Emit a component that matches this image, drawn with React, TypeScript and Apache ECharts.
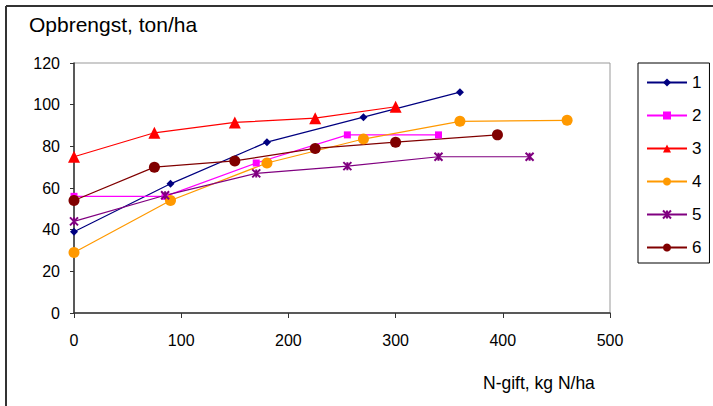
import React, { useEffect, useRef } from "react";
import * as echarts from "echarts";

const seriesNames = ["1", "2", "3", "4", "5", "6"];
const s1: [number, number][] = [[0, 39], [90, 62], [180, 82], [270, 94], [360, 106]];
const s2: [number, number][] = [[0, 56], [85, 56], [170, 72], [255, 85.5], [340, 85.5]];
const s3: [number, number][] = [[0, 75], [75, 86.5], [150, 91.5], [225, 93.5], [300, 99]];
const s4: [number, number][] = [[0, 29], [90, 54], [180, 72], [270, 83.5], [360, 92], [460, 92.5]];
const s5: [number, number][] = [[0, 44], [85, 56.5], [170, 67], [255, 70.5], [340, 75], [425, 75]];
const s6: [number, number][] = [[0, 54], [75, 70], [150, 73], [225, 79], [300, 82], [395, 85.5]];
const seriesData = [s1, s2, s3, s4, s5, s6];
const colors = ["#000080", "#FF00FF", "#FF0000", "#FF9900", "#800080", "#800000"];
const symbols = [
  "diamond",
  "rect",
  "triangle",
  "circle",
  "path://M0,0L10,10M10,0L0,10M5,0L5,10",
  "circle",
];
const symbolSizes = [8, 7, 12, 11, 8, 11];
const yTitle = "Opbrengst, ton/ha";
const xTitle = "N-gift, kg N/ha";

export default function App() {
  const ref = useRef<HTMLDivElement>(null);
  useEffect(() => {
    if (!ref.current) return;
    const chart = echarts.init(ref.current, undefined, { renderer: "svg" });
    const font = "'Liberation Sans', Arial, sans-serif";
    chart.setOption({
      animation: false,
      backgroundColor: "#fff",
      textStyle: { fontFamily: font },
      grid: {
        left: 74,
        top: 63,
        width: 536,
        height: 250,
        show: true,
        borderColor: "#999",
        borderWidth: 1,
        containLabel: false,
      },
      xAxis: {
        type: "value",
        min: 0,
        max: 500,
        interval: 100,
        splitLine: { show: false },
        axisLine: { show: true, onZero: false, lineStyle: { color: "#333", width: 1.5 } },
        axisTick: { show: true, length: 5, lineStyle: { color: "#333" } },
        axisLabel: { color: "#000", fontSize: 16, margin: 19, fontFamily: font },
      },
      yAxis: {
        type: "value",
        min: 0,
        max: 120,
        interval: 20,
        splitLine: { show: false },
        axisLine: { show: true, onZero: false, lineStyle: { color: "#333", width: 1.5 } },
        axisTick: { show: true, length: 4, lineStyle: { color: "#333" } },
        axisLabel: { color: "#000", fontSize: 16, margin: 14, fontFamily: font },
      },
      legend: {
        orient: "vertical",
        left: 638,
        top: 63,
        width: 70,
        padding: [11, 8, 7, 8],
        itemGap: 16,
        itemWidth: 40,
        itemHeight: 10,
        borderColor: "#000",
        borderWidth: 1,
        textStyle: { fontSize: 17, color: "#000", fontFamily: font, padding: [0, 0, 0, 0] },
        data: seriesNames,
      },
      graphic: [
        {
          type: "line",
          shape: { x1: 6, y1: 6, x2: 713, y2: 6 },
          style: { stroke: "#333", lineWidth: 2 },
        },
        {
          type: "line",
          shape: { x1: 6, y1: 6, x2: 6, y2: 406 },
          style: { stroke: "#333", lineWidth: 2 },
        },
        {
          type: "text",
          left: 29,
          top: 14,
          style: { text: yTitle, fontSize: 21, fill: "#000", fontFamily: font },
        },
        {
          type: "text",
          left: 483,
          top: 374,
          style: { text: xTitle, fontSize: 17.5, fill: "#000", fontFamily: font },
        },
      ],
      series: seriesData.map((d, i) => ({
        name: seriesNames[i],
        type: "line",
        data: d,
        symbol: symbols[i],
        symbolSize: symbolSizes[i],
        showSymbol: true,
        color: colors[i],
        lineStyle: { color: colors[i], width: 1.2 },
        itemStyle:
          i === 4
            ? { color: colors[i], borderColor: colors[i], borderWidth: 2 }
            : { color: colors[i], borderWidth: 0 },
        emphasis: { disabled: true },
      })),
    });
    return () => chart.dispose();
  }, []);
  return (
    <div
      ref={ref}
      style={{ position: "fixed", left: 0, top: 0, width: 713, height: 406, background: "#fff" }}
    />
  );
}
